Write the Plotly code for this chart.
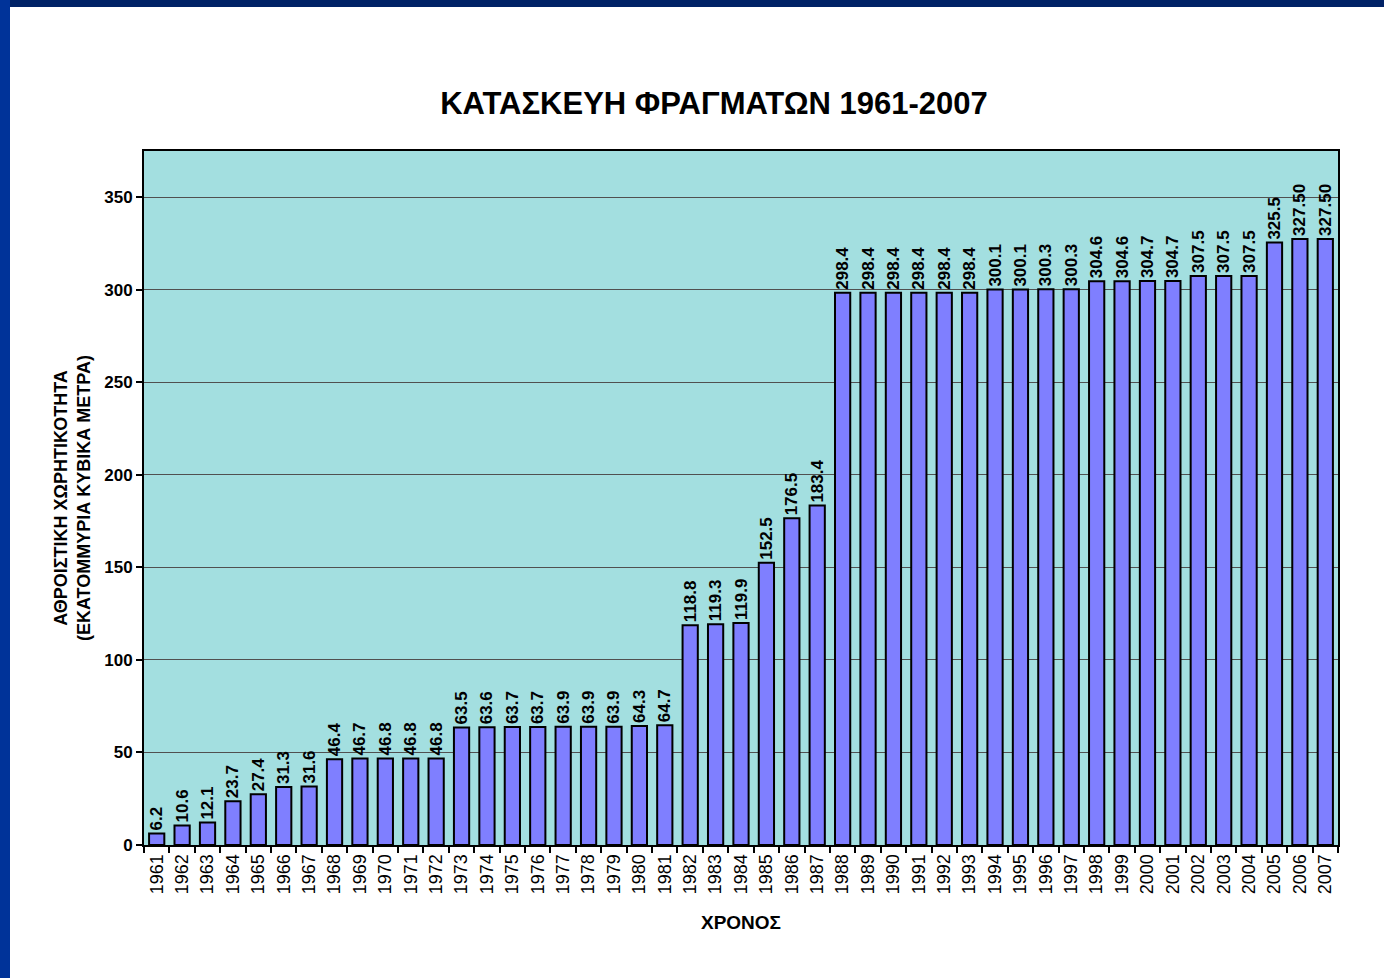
import plotly.graph_objects as go

years = [str(y) for y in range(1961, 2008)]
values = [6.2, 10.6, 12.1, 23.7, 27.4, 31.3, 31.6,
          46.4, 46.7, 46.8, 46.8, 46.8,
          63.5, 63.6, 63.7, 63.7, 63.9, 63.9, 63.9, 64.3, 64.7,
          118.8, 119.3, 119.9, 152.5, 176.5, 183.4,
          298.4, 298.4, 298.4, 298.4, 298.4, 298.4,
          300.1, 300.1, 300.3, 300.3,
          304.6, 304.6, 304.7, 304.7,
          307.5, 307.5, 307.5,
          325.5, 327.50, 327.50]
labels = ["6.2", "10.6", "12.1", "23.7", "27.4", "31.3", "31.6",
          "46.4", "46.7", "46.8", "46.8", "46.8",
          "63.5", "63.6", "63.7", "63.7", "63.9", "63.9", "63.9", "64.3", "64.7",
          "118.8", "119.3", "119.9", "152.5", "176.5", "183.4",
          "298.4", "298.4", "298.4", "298.4", "298.4", "298.4",
          "300.1", "300.1", "300.3", "300.3",
          "304.6", "304.6", "304.7", "304.7",
          "307.5", "307.5", "307.5",
          "325.5", "327.50", "327.50"]
y_ticks = [0, 50, 100, 150, 200, 250, 300, 350]

FONT = "Liberation Sans, Arial, sans-serif"

fig = go.Figure(go.Bar(
    x=years, y=values, text=labels,
    textposition="outside", textangle=-90, cliponaxis=False,
    textfont=dict(family=FONT, size=17, color="black", weight="bold"),
    marker=dict(color="#7F7FFF", line=dict(color="black", width=2)),
    width=0.6,
))

W, H = 1384, 978
ml, mr, mt, mb = 144, 46, 151, 133
pw = W - ml - mr
ph = H - mt - mb

def px_x(p):
    return (p - ml) / pw

def px_y(p):
    return (H - mb - p) / ph

fig.update_layout(
    width=W, height=H,
    margin=dict(l=ml, r=mr, t=mt, b=mb),
    paper_bgcolor="white",
    plot_bgcolor="#A3DFE0",
    showlegend=False,
    uniformtext=dict(minsize=17, mode="show"),
    title=dict(text="ΚΑΤΑΣΚΕΥΗ ΦΡΑΓΜΑΤΩΝ 1961-2007",
               x=714 / W, xanchor="center", y=1 - 103 / H, yanchor="middle",
               font=dict(family=FONT, size=31, color="black", weight="bold")),
    xaxis=dict(
        type="category", tickangle=-90,
        tickfont=dict(family=FONT, size=18, color="black"),
        ticks="outside", ticklen=6, tickwidth=2, tickcolor="black",
        tickson="boundaries",
        showline=True, linecolor="black", linewidth=2, mirror=True,
        title=dict(text="ΧΡΟΝΟΣ", standoff=22,
                   font=dict(family=FONT, size=19, color="black", weight="bold")),
    ),
    yaxis=dict(
        range=[0, 375], tickvals=y_ticks,
        tickfont=dict(family=FONT, size=17, color="black", weight="bold"),
        ticks="outside", ticklen=6, tickwidth=2, tickcolor="black",
        showgrid=True, gridcolor="#505050", gridwidth=1,
        zeroline=False,
        showline=True, linecolor="black", linewidth=2, mirror=True,
        title=dict(text="ΑΘΡΟΙΣΤΙΚΗ ΧΩΡΗΤΙΚΟΤΗΤΑ<br>(ΕΚΑΤΟΜΜΥΡΙΑ ΚΥΒΙΚΑ ΜΕΤΡΑ)",
                   standoff=9,
                   font=dict(family=FONT, size=18, color="black", weight="bold")),
    ),
    shapes=[
        dict(type="rect", xref="paper", yref="paper",
             x0=px_x(0), x1=px_x(W), y0=px_y(0), y1=px_y(7),
             fillcolor="#002266", line=dict(width=0), layer="above"),
        dict(type="rect", xref="paper", yref="paper",
             x0=px_x(0), x1=px_x(10), y0=px_y(0), y1=px_y(H),
             fillcolor="#003399", line=dict(width=0), layer="above"),
    ],
)

fig.write_html("out.html", config={"displayModeBar": False},
               post_script="document.body.style.margin='0px';")
